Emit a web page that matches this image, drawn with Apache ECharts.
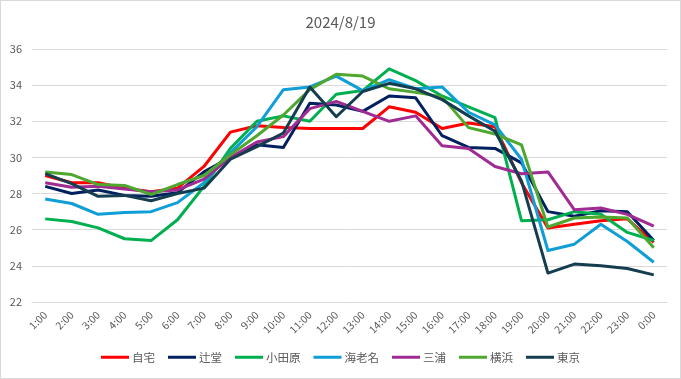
<!DOCTYPE html>
<html>
<head>
<meta charset="utf-8">
<script src="https://cdn.jsdelivr.net/npm/echarts@6/dist/echarts.min.js"></script>
<style>
html,body{margin:0;padding:0;background:#fff;}
#c{width:679px;height:377px;border:1px solid #d9d9d9;}
</style>
</head>
<body>
<div id="c"></div>
<script>
const title = "2024/8/19";
const categories = ["1:00","2:00","3:00","4:00","5:00","6:00","7:00","8:00","9:00","10:00","11:00","12:00","13:00","14:00","15:00","16:00","17:00","18:00","19:00","20:00","21:00","22:00","23:00","0:00"];
const yTicks = [22, 24, 26, 28, 30, 32, 34, 36];

const jitaku   = [29.0, 28.6, 28.6, 28.3, 28.1, 28.3, 29.5, 31.4, 31.75, 31.65, 31.6, 31.6, 31.6, 32.8, 32.5, 31.6, 31.9, 31.7, 28.6, 26.1, 26.3, 26.5, 26.6, 25.3];
const tsujido  = [28.4, 28.0, 28.2, 27.9, 27.85, 28.05, 29.2, 30.0, 30.7, 30.55, 33.0, 32.9, 32.55, 33.4, 33.3, 31.2, 30.55, 30.5, 29.7, 27.0, 26.75, 27.05, 27.0, 25.4];
const odawara  = [26.6, 26.45, 26.1, 25.5, 25.4, 26.55, 28.4, 30.5, 32.0, 32.3, 32.0, 33.5, 33.7, 34.9, 34.25, 33.4, 32.8, 32.2, 26.5, 26.55, 27.0, 26.85, 25.85, 25.4];
const ebina    = [27.7, 27.45, 26.85, 26.95, 27.0, 27.5, 28.6, 30.25, 31.7, 33.75, 33.9, 34.5, 33.7, 34.3, 33.8, 33.9, 32.5, 31.8, 29.9, 24.85, 25.2, 26.3, 25.35, 24.2];
const miura    = [28.6, 28.35, 28.4, 28.25, 28.1, 28.2, 28.8, 30.0, 30.85, 31.15, 32.7, 33.1, 32.55, 32.0, 32.3, 30.65, 30.5, 29.5, 29.1, 29.2, 27.1, 27.2, 26.85, 26.2];
const yokohama = [29.2, 29.05, 28.5, 28.45, 27.95, 28.5, 29.0, 30.15, 31.2, 32.35, 33.75, 34.6, 34.5, 33.8, 33.6, 33.35, 31.65, 31.3, 30.7, 26.15, 26.65, 26.7, 26.65, 25.0];
const tokyo    = [29.1, 28.55, 27.85, 27.9, 27.6, 28.0, 28.3, 29.9, 30.6, 31.35, 33.9, 32.25, 33.65, 34.1, 33.8, 33.2, 32.3, 31.45, 28.7, 23.6, 24.1, 24.0, 23.85, 23.5];

const names  = ["自宅","辻堂","小田原","海老名","三浦","横浜","東京"];
const values = [jitaku, tsujido, odawara, ebina, miura, yokohama, tokyo];
const colors = ["#FF0000","#002060","#00B050","#0F9ED5","#A02B93","#4EA72E","#153D50"];

const font = "'Noto Sans CJK JP', 'Noto Sans', sans-serif";
const chart = echarts.init(document.getElementById('c'), null, {renderer:'canvas'});
chart.setOption({
  animation:false,
  backgroundColor:'#fff',
  textStyle:{fontFamily:font},
  title:{text:title,left:'center',top:9,textStyle:{fontSize:15,fontWeight:'normal',color:'#595959',fontFamily:font}},
  grid:{left:31,right:13,top:48,bottom:76},
  legend:{
    bottom:10,left:'center',
    itemWidth:28,itemHeight:3,itemGap:13,icon:'rect',
    textStyle:{fontSize:11.5,color:'#595959',fontFamily:font,padding:[0,0,0,-2]},
    data:names
  },
  xAxis:{
    type:'category',data:categories,boundaryGap:true,
    axisLine:{lineStyle:{color:'#d9d9d9'}},
    axisTick:{show:false},
    axisLabel:{rotate:45,color:'#595959',fontSize:10.5,fontFamily:font,interval:0,margin:11}
  },
  yAxis:{
    type:'value',min:yTicks[0],max:yTicks[yTicks.length-1],interval:2,
    axisLine:{show:false},axisTick:{show:false},
    axisLabel:{color:'#595959',fontSize:11,fontFamily:font,margin:10},
    splitLine:{lineStyle:{color:'#d9d9d9'}}
  },
  series:names.map((n,i)=>({
    name:n,type:'line',data:values[i],showSymbol:false,symbol:'none',
    lineStyle:{width:3,color:colors[i],join:'round'},
    itemStyle:{color:colors[i]}
  }))
});
</script>
</body>
</html>
